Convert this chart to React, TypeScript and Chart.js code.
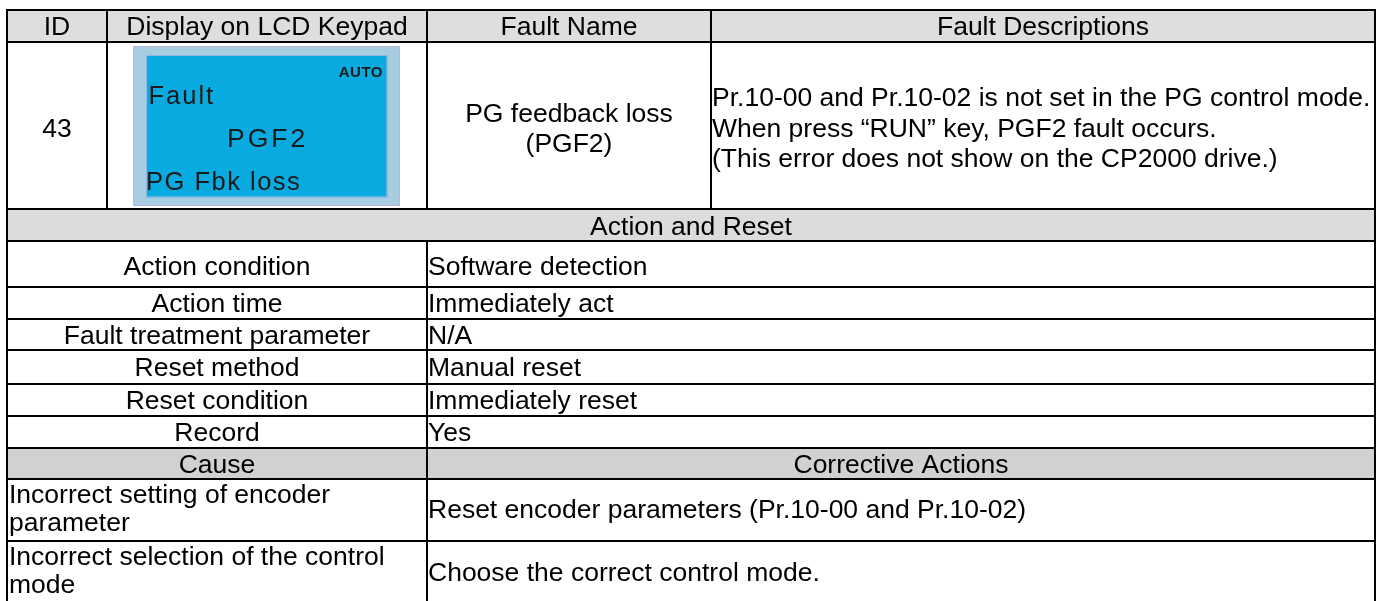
import React, { useEffect, useRef } from "react";
import { Chart, registerables } from "chart.js";

Chart.register(...registerables);

// ---------- content (data) ----------
const headerLabels = ["ID", "Display on LCD Keypad", "Fault Name", "Fault Descriptions"];
const faultId = "43";
const lcdLines = ["AUTO", "Fault", "PGF2", "PG Fbk loss"];
const faultNameLines = ["PG feedback loss", "(PGF2)"];
const descriptionLines = [
  "Pr.10-00 and Pr.10-02 is not set in the PG control mode.",
  "When press \u201CRUN\u201D key, PGF2 fault occurs.",
  "(This error does not show on the CP2000 drive.)",
];
const sectionTitle = "Action and Reset";
const actionItems = [
  "Action condition",
  "Action time",
  "Fault treatment parameter",
  "Reset method",
  "Reset condition",
  "Record",
];
const actionValues = [
  "Software detection",
  "Immediately act",
  "N/A",
  "Manual reset",
  "Immediately reset",
  "Yes",
];
const causeHeaders = ["Cause", "Corrective Actions"];
const causes = [
  ["Incorrect setting of encoder", "parameter"],
  ["Incorrect selection of the control", "mode"],
];
const correctiveActions = [
  "Reset encoder parameters (Pr.10-00 and Pr.10-02)",
  "Choose the correct control mode.",
];

// ---------- layout (positions in page units, mapped through the scales) ----------
const W = 1389;
const H = 601;
const COLS = [7, 107, 427, 711, 1375]; // top section columns
const MID = 427; // divider of lower sections
const ROW_TOP = 10;
const ROW_HEAD = 42;
const ROW_LCD = 209;
const ROW_SECTION = 241;
const ACTION_ROWS = [241, 287, 319, 350, 384, 416, 448];
const CAUSE_HEAD_BOTTOM = 479;
const CAUSE_ROWS = [479, 541, 606];
const FONT = '"Liberation Sans", Arial, sans-serif';
const FS = 26.5;
const CAP = 0.716 * FS;

const tablePlugin = {
  id: "tablePlugin",
  afterDraw(chart: any) {
    const ctx: CanvasRenderingContext2D = chart.ctx;
    const xs = chart.scales.x;
    const ys = chart.scales.y;
    const px = (v: number) => xs.getPixelForValue(v);
    const py = (v: number) => ys.getPixelForValue(v);
    const L = COLS[0];
    const R = COLS[COLS.length - 1];

    ctx.save();
    // ---- fills ----
    const fillRect = (x0: number, y0: number, x1: number, y1: number, c: string) => {
      ctx.fillStyle = c;
      ctx.fillRect(px(x0), py(y0), px(x1) - px(x0), py(y1) - py(y0));
    };
    fillRect(L, ROW_TOP, R, ROW_HEAD, "#DEDEDE");
    fillRect(L, ROW_LCD, R, ROW_SECTION, "#DCDCDC");
    fillRect(L, ACTION_ROWS[ACTION_ROWS.length - 1], R, CAUSE_HEAD_BOTTOM, "#D2D0D0");

    // ---- LCD graphic ----
    fillRect(133.3, 46, 400, 206, "#A8CDE1");
    ctx.strokeStyle = "#B4B6DC";
    ctx.lineWidth = 1;
    ctx.strokeRect(px(133.3) + 0.5, py(46) + 0.5, px(400) - px(133.3) - 1, py(206) - py(46) - 1);
    fillRect(146, 55, 387.3, 197.3, "#08AADF");
    ctx.strokeStyle = "#8FB6E6";
    ctx.strokeRect(px(146) + 0.5, py(55) + 0.5, px(387.3) - px(146) - 1, py(197.3) - py(55) - 1);

    ctx.fillStyle = "#1a1a1a";
    ctx.textBaseline = "alphabetic";
    (ctx as any).letterSpacing = "0.5px";
    ctx.font = `bold 15px ${FONT}`;
    ctx.textAlign = "right";
    ctx.fillText(lcdLines[0], px(383), py(77));
    ctx.textAlign = "left";
    (ctx as any).letterSpacing = "2px";
    ctx.font = `25.5px ${FONT}`;
    ctx.fillText(lcdLines[1], px(148.5), py(104.3));
    (ctx as any).letterSpacing = "3px";
    ctx.font = `26.5px ${FONT}`;
    ctx.fillText(lcdLines[2], px(227), py(147.3));
    (ctx as any).letterSpacing = "1.5px";
    ctx.font = `25.5px ${FONT}`;
    ctx.fillText(lcdLines[3], px(146), py(190));
    (ctx as any).letterSpacing = "0px";

    // ---- text ----
    ctx.fillStyle = "#000";
    ctx.font = `${FS}px ${FONT}`;
    const textAt = (s: string, x: number, centerY: number, align: CanvasTextAlign) => {
      ctx.textAlign = align;
      ctx.fillText(s, px(x), py(centerY + CAP / 2));
    };
    const mid = (a: number, b: number) => (a + b) / 2;

    headerLabels.forEach((h, i) => textAt(h, mid(COLS[i], COLS[i + 1]), mid(ROW_TOP, ROW_HEAD), "center"));
    textAt(faultId, mid(COLS[0], COLS[1]), mid(ROW_HEAD, ROW_LCD) + 2.5, "center");
    const nameGap = 30;
    faultNameLines.forEach((s, i) =>
      textAt(s, mid(COLS[2], COLS[3]), mid(ROW_HEAD, ROW_LCD) + (i - (faultNameLines.length - 1) / 2) * nameGap + 2, "center")
    );
    const descGap = 30.5;
    descriptionLines.forEach((s, i) =>
      textAt(s, COLS[3] + 1, mid(ROW_HEAD, ROW_LCD) + (i - (descriptionLines.length - 1) / 2) * descGap + 2, "left")
    );
    textAt(sectionTitle, mid(L, R), mid(ROW_LCD, ROW_SECTION) + 1, "center");
    actionItems.forEach((s, i) => {
      const c = mid(ACTION_ROWS[i], ACTION_ROWS[i + 1]) + (i === 0 ? 1.5 : 0);
      textAt(s, mid(L, MID), c, "center");
      textAt(actionValues[i], MID + 1, c, "left");
    });
    const ch = mid(ACTION_ROWS[ACTION_ROWS.length - 1], CAUSE_HEAD_BOTTOM);
    textAt(causeHeaders[0], mid(L, MID), ch, "center");
    textAt(causeHeaders[1], mid(MID, R), ch, "center");
    const causeGap = 28.5;
    causes.forEach((lines, i) => {
      const top = CAUSE_ROWS[i];
      ctx.textAlign = "left";
      lines.forEach((s, j) => ctx.fillText(s, px(L + 2), py(top + 23.5 + j * causeGap)));
      const c = mid(CAUSE_ROWS[i], CAUSE_ROWS[i + 1]);
      textAt(correctiveActions[i], MID + 1, c - 1.5, "left");
    });

    // ---- grid lines ----
    ctx.strokeStyle = "#000";
    ctx.lineWidth = 2;
    const hLine = (yv: number, x0: number, x1: number) => {
      ctx.beginPath();
      ctx.moveTo(px(x0) - 1, py(yv));
      ctx.lineTo(px(x1) + 1, py(yv));
      ctx.stroke();
    };
    const vLine = (xv: number, y0: number, y1: number) => {
      ctx.beginPath();
      ctx.moveTo(px(xv), py(y0));
      ctx.lineTo(px(xv), py(y1));
      ctx.stroke();
    };
    [ROW_TOP, ROW_HEAD, ROW_LCD, ...ACTION_ROWS, CAUSE_HEAD_BOTTOM, ...CAUSE_ROWS].forEach((r) => hLine(r, L, R));
    COLS.slice(1, 4).forEach((c) => vLine(c, ROW_TOP, ROW_LCD));
    vLine(MID, ROW_SECTION, CAUSE_ROWS[CAUSE_ROWS.length - 1]);
    vLine(L, ROW_TOP - 1, CAUSE_ROWS[CAUSE_ROWS.length - 1]);
    vLine(R, ROW_TOP - 1, CAUSE_ROWS[CAUSE_ROWS.length - 1]);
    ctx.restore();
  },
};

export default function App() {
  const ref = useRef<HTMLCanvasElement | null>(null);
  useEffect(() => {
    if (!ref.current) return;
    const chart = new Chart(ref.current, {
      type: "scatter",
      data: { datasets: [{ data: [] }] },
      options: {
        animation: false,
        responsive: false,
        devicePixelRatio: 1,
        layout: { padding: 0 },
        plugins: { legend: { display: false }, tooltip: { enabled: false } },
        scales: {
          x: { type: "linear", min: 0, max: W, display: false },
          y: { type: "linear", min: 0, max: H, reverse: true, display: false },
        },
      },
      plugins: [tablePlugin],
    });
    return () => chart.destroy();
  }, []);
  return (
    <div style={{ position: "fixed", left: 0, top: 0, width: W, height: H, background: "#fff" }}>
      <canvas ref={ref} width={W} height={H} style={{ display: "block", width: W, height: H }} />
    </div>
  );
}
